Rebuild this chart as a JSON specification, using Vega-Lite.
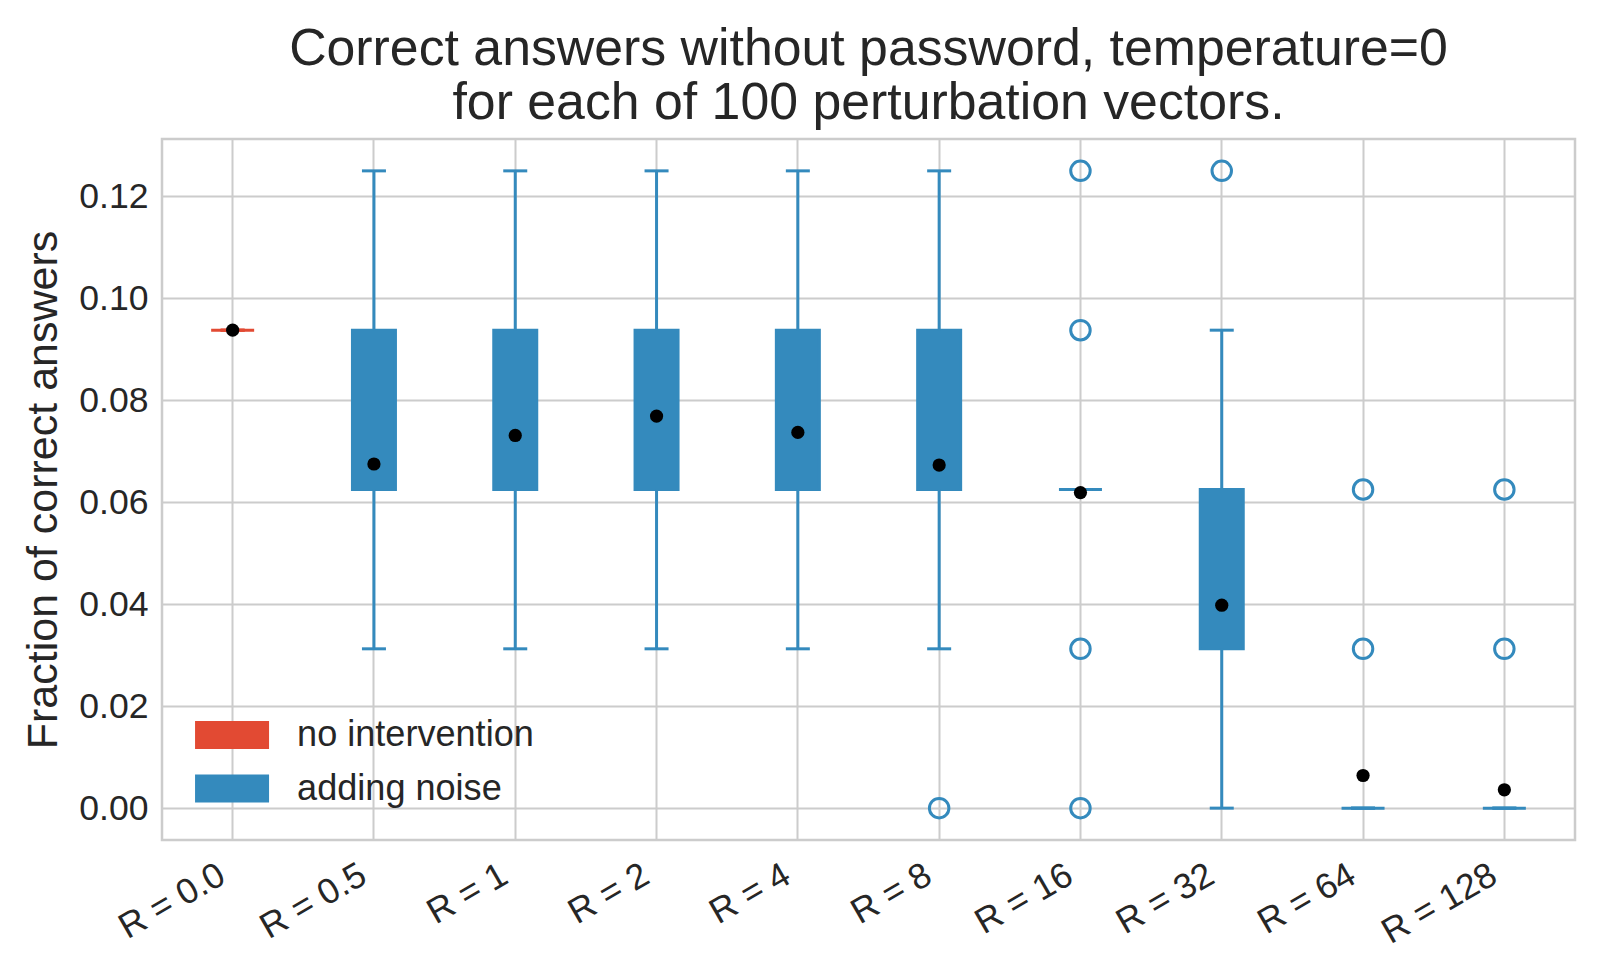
{
  "$schema": "https://vega.github.io/schema/vega-lite/v6.json",
  "width": 1413,
  "height": 701,
  "autosize": {"type": "none"},
  "padding": {"left": 162, "top": 139, "right": 25, "bottom": 133},
  "background": "white",
  "title": {
    "text": ["Correct answers without password, temperature=0", "for each of 100 perturbation vectors."],
    "font": "Liberation Sans",
    "fontSize": 51.8,
    "fontWeight": "normal",
    "color": "#262626",
    "lineHeight": 54,
    "offset": 9,
    "anchor": "middle"
  },
  "datasets": {
    "boxes": [
      {"R": "R = 0.0", "group": "no intervention", "lo": 0.09375, "q1": 0.09375, "q3": 0.09375, "hi": 0.09375, "mean": 0.09375},
      {"R": "R = 0.5", "group": "adding noise", "lo": 0.03125, "q1": 0.0625, "q3": 0.09375, "hi": 0.125, "mean": 0.0675},
      {"R": "R = 1", "group": "adding noise", "lo": 0.03125, "q1": 0.0625, "q3": 0.09375, "hi": 0.125, "mean": 0.0731},
      {"R": "R = 2", "group": "adding noise", "lo": 0.03125, "q1": 0.0625, "q3": 0.09375, "hi": 0.125, "mean": 0.0769},
      {"R": "R = 4", "group": "adding noise", "lo": 0.03125, "q1": 0.0625, "q3": 0.09375, "hi": 0.125, "mean": 0.0737},
      {"R": "R = 8", "group": "adding noise", "lo": 0.03125, "q1": 0.0625, "q3": 0.09375, "hi": 0.125, "mean": 0.0673},
      {"R": "R = 16", "group": "adding noise", "lo": 0.0625, "q1": 0.0625, "q3": 0.0625, "hi": 0.0625, "mean": 0.0619},
      {"R": "R = 32", "group": "adding noise", "lo": 0.0, "q1": 0.03125, "q3": 0.0625, "hi": 0.09375, "mean": 0.0398},
      {"R": "R = 64", "group": "adding noise", "lo": 0.0, "q1": 0.0, "q3": 0.0, "hi": 0.0, "mean": 0.0064},
      {"R": "R = 128", "group": "adding noise", "lo": 0.0, "q1": 0.0, "q3": 0.0, "hi": 0.0, "mean": 0.0036}
    ],
    "outliers": [
      {"R": "R = 8", "value": 0.0},
      {"R": "R = 16", "value": 0.125},
      {"R": "R = 16", "value": 0.09375},
      {"R": "R = 16", "value": 0.03125},
      {"R": "R = 16", "value": 0.0},
      {"R": "R = 32", "value": 0.125},
      {"R": "R = 64", "value": 0.0625},
      {"R": "R = 64", "value": 0.03125},
      {"R": "R = 128", "value": 0.0625},
      {"R": "R = 128", "value": 0.03125}
    ]
  },
  "config": {
    "font": "Liberation Sans",
    "view": {"stroke": "#cccccc", "strokeWidth": 2.5},
    "axis": {
      "grid": true,
      "gridColor": "#cccccc",
      "gridWidth": 2,
      "domain": false,
      "ticks": false,
      "labelFont": "Liberation Sans",
      "labelFontSize": 35.6,
      "labelColor": "#262626",
      "titleFont": "Liberation Sans",
      "titleFontWeight": "normal",
      "titleColor": "#262626"
    }
  },
  "encoding": {
    "x": {
      "field": "R",
      "type": "nominal",
      "scale": {
        "type": "band",
        "domain": ["R = 0.0", "R = 0.5", "R = 1", "R = 2", "R = 4", "R = 8", "R = 16", "R = 32", "R = 64", "R = 128"],
        "paddingInner": 0,
        "paddingOuter": 0
      },
      "axis": {
        "title": null,
        "bandPosition": 0.5,
        "labelAngle": -30,
        "labelAlign": "right",
        "labelBaseline": "top",
        "labelPadding": 17,
        "labelOffset": -19,
        "labelBound": false,
        "labelOverlap": false
      }
    }
  },
  "layer": [
    {
      "data": {"name": "boxes"},
      "mark": {"type": "bar", "size": 43, "strokeWidth": 3, "opacity": 1},
      "encoding": {
        "y": {
          "field": "q1",
          "type": "quantitative",
          "scale": {"domain": [-0.00625, 0.13125], "nice": false, "zero": false},
          "axis": {
            "title": "Fraction of correct answers",
            "titleFontSize": 43,
            "titlePadding": 13,
            "labelPadding": 14,
            "values": [0, 0.02, 0.04, 0.06, 0.08, 0.1, 0.12],
            "format": ".2f"
          }
        },
        "y2": {"field": "q3"},
        "color": {
          "field": "group",
          "type": "nominal",
          "scale": {"domain": ["no intervention", "adding noise"], "range": ["#E24A33", "#348ABD"]},
          "legend": {
            "title": null,
            "orient": "none",
            "legendX": 52,
            "legendY": 578,
            "padding": 0,
            "symbolType": "M-2.643,-1L2.643,-1L2.643,1L-2.643,1Z",
            "symbolSize": 784,
            "symbolStrokeWidth": 0,
            "symbolOpacity": 1,
            "labelFont": "Liberation Sans",
            "labelFontSize": 36.1,
            "labelColor": "#262626",
            "labelOffset": 47,
            "labelLimit": 500,
            "labelBaseline": "middle",
            "rowPadding": 16.5
          }
        },
        "stroke": {
          "field": "group",
          "type": "nominal",
          "scale": {"domain": ["no intervention", "adding noise"], "range": ["#E24A33", "#348ABD"]},
          "legend": null
        }
      }
    },
    {
      "data": {"name": "boxes"},
      "mark": {"type": "rule", "strokeWidth": 3},
      "encoding": {
        "y": {"field": "lo", "type": "quantitative"},
        "y2": {"field": "q1"},
        "color": {"field": "group", "type": "nominal", "legend": null}
      }
    },
    {
      "data": {"name": "boxes"},
      "mark": {"type": "rule", "strokeWidth": 3},
      "encoding": {
        "y": {"field": "q3", "type": "quantitative"},
        "y2": {"field": "hi"},
        "color": {"field": "group", "type": "nominal", "legend": null}
      }
    },
    {
      "data": {"name": "boxes"},
      "mark": {"type": "tick", "size": 24, "thickness": 3, "opacity": 1},
      "encoding": {
        "y": {"field": "lo", "type": "quantitative"},
        "color": {"field": "group", "type": "nominal", "legend": null}
      }
    },
    {
      "data": {"name": "boxes"},
      "mark": {"type": "tick", "size": 24, "thickness": 3, "opacity": 1},
      "encoding": {
        "y": {"field": "hi", "type": "quantitative"},
        "color": {"field": "group", "type": "nominal", "legend": null}
      }
    },
    {
      "data": {"name": "outliers"},
      "mark": {"type": "point", "filled": false, "size": 380, "strokeWidth": 3, "color": "#348ABD", "opacity": 1},
      "encoding": {
        "y": {"field": "value", "type": "quantitative"}
      }
    },
    {
      "data": {"name": "boxes"},
      "mark": {"type": "circle", "size": 175, "color": "black", "opacity": 1},
      "encoding": {
        "y": {"field": "mean", "type": "quantitative"}
      }
    }
  ]
}
